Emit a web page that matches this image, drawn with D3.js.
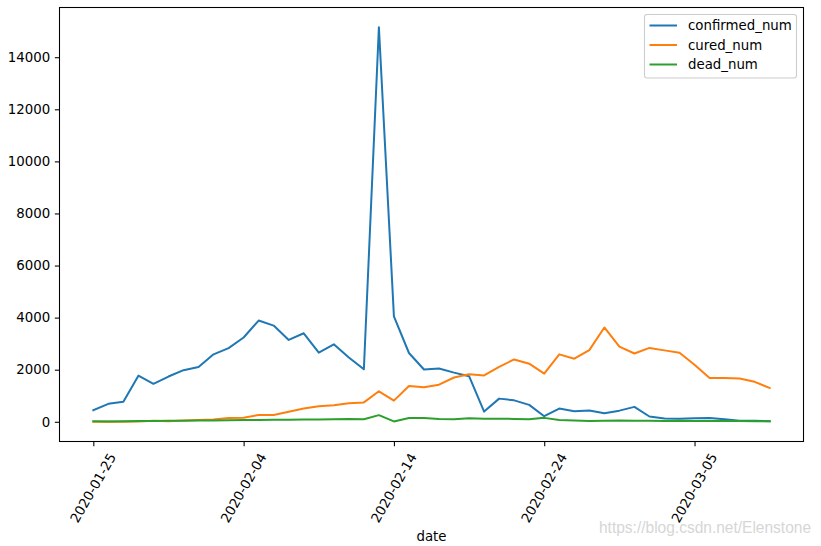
<!DOCTYPE html>
<html>
<head>
<meta charset="utf-8">
<script src="https://cdn.jsdelivr.net/npm/d3@7"></script>
<style>
  html, body { margin: 0; padding: 0; background: #fff; }
  svg { display: block; font-family: "DejaVu Sans", sans-serif; }
</style>
</head>
<body>
<svg id="chart" width="821" height="546"></svg>
<script>
// ---- data ----
const dates = [
  "2020-01-25","2020-01-26","2020-01-27","2020-01-28","2020-01-29","2020-01-30","2020-01-31",
  "2020-02-01","2020-02-02","2020-02-03","2020-02-04","2020-02-05","2020-02-06","2020-02-07",
  "2020-02-08","2020-02-09","2020-02-10","2020-02-11","2020-02-12","2020-02-13","2020-02-14",
  "2020-02-15","2020-02-16","2020-02-17","2020-02-18","2020-02-19","2020-02-20","2020-02-21",
  "2020-02-22","2020-02-23","2020-02-24","2020-02-25","2020-02-26","2020-02-27","2020-02-28",
  "2020-02-29","2020-03-01","2020-03-02","2020-03-03","2020-03-04","2020-03-05","2020-03-06",
  "2020-03-07","2020-03-08","2020-03-09","2020-03-10"
];
const confirmedNum = [
  444, 688, 769, 1771, 1459, 1737, 1982, 2102, 2590, 2829, 3235, 3887, 3694, 3143, 3399, 2652,
  2973, 2467, 2015, 15152, 4047, 2641, 2008, 2048, 1888, 1749, 391, 889, 823, 648, 214, 508,
  406, 433, 327, 427, 573, 202, 125, 119, 139, 143, 99, 44, 40, 19
];
const curedNum = [
  4, 11, 2, 9, 43, 21, 47, 72, 85, 147, 157, 260, 261, 387, 510, 599, 632, 715, 744, 1171,
  812, 1373, 1323, 1425, 1701, 1824, 1779, 2109, 2394, 2230, 1846, 2589, 2422, 2750, 3622,
  2885, 2623, 2837, 2742, 2652, 2189, 1681, 1678, 1661, 1535, 1297
];
const deadNum = [
  16, 15, 24, 26, 26, 38, 43, 46, 45, 57, 64, 65, 73, 73, 86, 89, 97, 108, 97, 254, 13, 143,
  142, 105, 98, 136, 114, 118, 109, 97, 150, 71, 52, 29, 44, 47, 35, 42, 31, 38, 31, 30, 28,
  27, 22, 17
];
const seriesNames = ["confirmed_num", "cured_num", "dead_num"];
const seriesColors = ["#1f77b4", "#ff7f0e", "#2ca02c"];
const xTickLabels = ["2020-01-25", "2020-02-04", "2020-02-14", "2020-02-24", "2020-03-05"];
const yTickValues = [0, 2000, 4000, 6000, 8000, 10000, 12000, 14000];
const xLabel = "date";
const watermark = "https://blog.csdn.net/Elenstone";

// ---- layout ----
const svg = d3.select("#chart");
const L = 59.5, R = 803.5, T = 7.5, B = 441.5;
const parse = d3.utcParse("%Y-%m-%d");
const dateObjs = dates.map(parse);
const allSeries = [confirmedNum, curedNum, deadNum];

const d0 = dateObjs[0], dN = dateObjs[dateObjs.length - 1];
const spanH = (dN - d0) / 3600000;
const x = d3.scaleUtc()
  .domain([d3.utcHour.offset(d0, -spanH * 0.05), d3.utcHour.offset(dN, spanH * 0.05)])
  .range([L, R]);

const allVals = allSeries.flat();
const vmin = d3.min(allVals), vmax = d3.max(allVals);
const vpad = (vmax - Math.min(0, vmin)) * 0.05;
const y = d3.scaleLinear()
  .domain([Math.min(0, vmin) - vpad, vmax + vpad])
  .range([B, T]);

const fs = 13.33;
const tickLen = 4.67, tickPad = 4.67;

// y axis
const yAxis = d3.axisLeft(y).tickValues(yTickValues).tickSize(tickLen).tickPadding(tickPad)
  .tickFormat(d3.format("d"));
const gy = svg.append("g").attr("transform", `translate(${L},0)`).call(yAxis);
gy.select(".domain").remove();
gy.selectAll(".tick line").attr("stroke", "#000").attr("stroke-width", 1.07);
gy.selectAll(".tick text").attr("font-size", fs).attr("fill", "#000")
  .attr("font-family", "DejaVu Sans, sans-serif");

// x axis
const xTickDates = xTickLabels.map(parse);
const xAxis = d3.axisBottom(x).tickValues(xTickDates).tickSize(tickLen).tickFormat(() => "");
const gx = svg.append("g").attr("transform", `translate(0,${B})`).call(xAxis);
gx.select(".domain").remove();
gx.selectAll(".tick line").attr("stroke", "#000").attr("stroke-width", 1.07);

svg.append("g").selectAll("text").data(xTickDates).join("text")
  .attr("transform", (d) => `translate(${x(d)},${B + 46.5}) rotate(-60)`)
  .attr("text-anchor", "middle")
  .attr("dominant-baseline", "central")
  .attr("font-size", fs)
  .attr("fill", "#000")
  .text((d, i) => xTickLabels[i]);

// lines
const line = d3.line().x((d, i) => x(dateObjs[i])).y((d) => y(d));
svg.append("g").selectAll("path").data(allSeries).join("path")
  .attr("d", (d) => line(d))
  .attr("fill", "none")
  .attr("stroke", (d, i) => seriesColors[i])
  .attr("stroke-width", 2)
  .attr("stroke-linejoin", "round")
  .attr("stroke-linecap", "square");

// frame
svg.append("rect")
  .attr("x", L).attr("y", T).attr("width", R - L).attr("height", B - T)
  .attr("fill", "none").attr("stroke", "#000").attr("stroke-width", 1.07);

// x label
svg.append("text")
  .attr("x", (L + R) / 2).attr("y", 541)
  .attr("text-anchor", "middle")
  .attr("font-size", fs)
  .attr("fill", "#000")
  .text(xLabel);

// legend
const lg = svg.append("g");
lg.append("rect")
  .attr("x", 644.5).attr("y", 14.5).attr("width", 152).attr("height", 63.5)
  .attr("rx", 2.5).attr("ry", 2.5)
  .attr("fill", "#fff").attr("fill-opacity", 0.8)
  .attr("stroke", "#cccccc").attr("stroke-width", 1.07);
const rowY = [25.5, 45, 64.5];
const items = lg.selectAll("g.item").data(seriesNames).join("g").attr("class", "item")
  .attr("transform", (d, i) => `translate(0,${rowY[i]})`);
items.append("line")
  .attr("x1", 649.5).attr("x2", 677)
  .attr("y1", 0).attr("y2", 0)
  .attr("stroke", (d, i) => seriesColors[i])
  .attr("stroke-width", 2);
items.append("text")
  .attr("x", 688).attr("y", 0)
  .attr("dominant-baseline", "central")
  .attr("font-size", fs)
  .attr("fill", "#000")
  .text((d) => d);

// watermark
svg.append("text")
  .attr("x", 599).attr("y", 533)
  .attr("font-family", "Liberation Sans, Arial, sans-serif")
  .attr("font-size", 16)
  .attr("textLength", 212)
  .attr("lengthAdjust", "spacingAndGlyphs")
  .attr("fill", "#d6d6d6")
  .text(watermark);
</script>
</body>
</html>
